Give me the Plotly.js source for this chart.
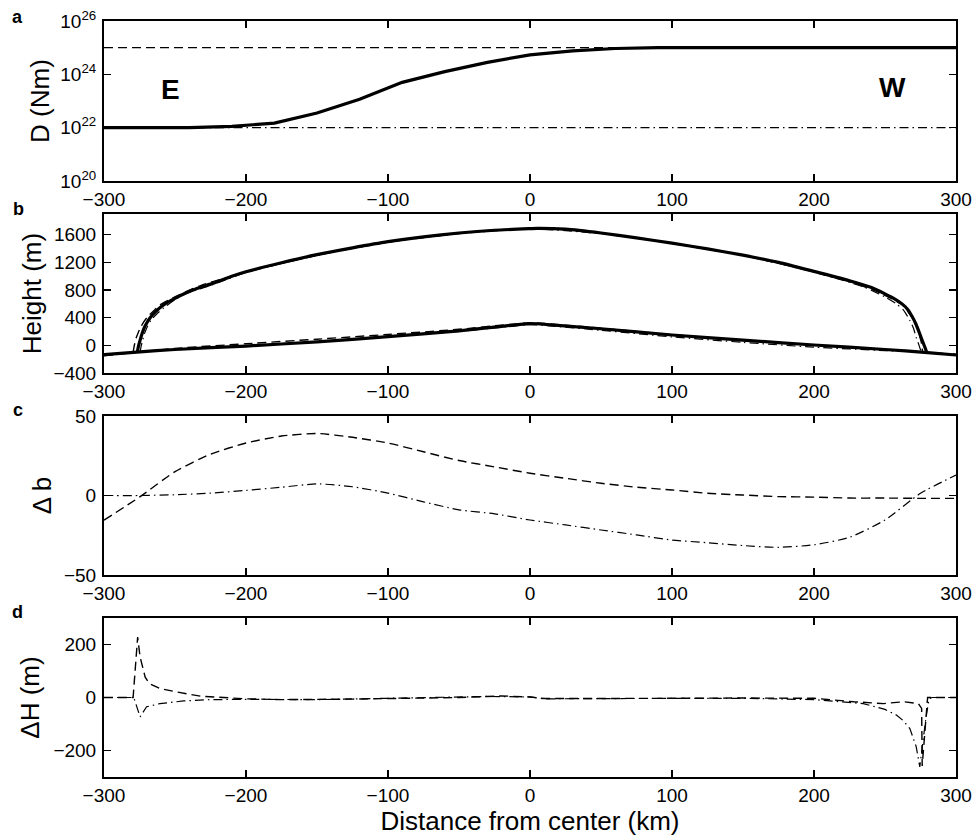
<!DOCTYPE html>
<html>
<head>
<meta charset="utf-8">
<script src="https://cdn.plot.ly/plotly-3.0.1.min.js"></script>
<style>html,body{margin:0;padding:0;background:#fff;}#chart{width:975px;height:836px;}</style>
</head>
<body>
<div id="chart"></div>
<script>
// ---------- Panel a: flexural rigidity D ----------
const xD = [-300, -240, -210, -180, -150, -120, -90, -60, -30, 0, 30, 60, 90, 120, 300];
const dSolid = [1.0e22, 1.0e22, 1.12e22, 1.48e22, 3.55e22, 1.17e23, 5.0e23, 1.26e24, 2.8e24, 5.4e24, 7.6e24, 9.3e24, 1.0e25, 1.0e25, 1.0e25];
const xRef = [-300, 300];
const dHigh = [1e25, 1e25];
const dLow = [1e22, 1e22];
const aTickVals = [1e20, 1e22, 1e24, 1e26];
const aTickText = ['10<sup>20</sup>', '10<sup>22</sup>', '10<sup>24</sup>', '10<sup>26</sup>'];

// ---------- Panel b: ice surface and bed ----------
const xSurf = [-276.5, -276, -275.3, -274.5, -273.5, -272, -270, -267.5, -264, -260, -255, -250, -242, -235, -223, -210, -200, -175, -150, -125, -100, -75, -50, -25, 0, 5, 25, 50, 75, 100, 125, 150, 175, 200, 225, 240, 250, 257, 262, 266, 269, 271.5, 273.5, 275.5, 277, 278.5, 279.5];
const surfSolid = [-97, -40, 20, 80, 150, 240, 320, 400, 480, 555, 625, 680, 760, 820, 900, 1000, 1065, 1195, 1312, 1410, 1500, 1570, 1625, 1665, 1688, 1692, 1680, 1625, 1555, 1478, 1395, 1305, 1200, 1070, 935, 840, 745, 670, 600, 520, 420, 320, 220, 110, 30, -50, -105];
const xSurfDash = [-279.5, -279, -278.3, -277.3, -276, -274.5, -272, -269, -265, -260.6, -249, -232, -200, -150, -100, -50, -25, 0, 5, 25, 50, 100, 150, 200, 228, 249, 263, 270, 273.5, 275.5, 276.5];
const surfDash = [-98, -40, 30, 110, 180, 250, 340, 420, 500, 584, 711, 865, 1058, 1305, 1495, 1622, 1668, 1684, 1688, 1676, 1620, 1475, 1302, 1065, 905, 735, 570, 370, 200, 50, -96];
const xSurfDot = [-274.5, -274, -273, -271.5, -269.5, -267, -263, -258, -250, -244, -225, -200, -150, -100, -50, 0, 50, 100, 150, 200, 235, 250, 258, 263, 267.5, 270, 272, 274, 275.5];
const surfDot = [-95, -30, 60, 170, 270, 360, 450, 540, 660, 735, 865, 1055, 1300, 1492, 1615, 1683, 1618, 1473, 1300, 1060, 845, 700, 600, 510, 360, 250, 114, 0, -96];
const xBed = [-300, -277, -250, -200, -150, -100, -50, -20, 0, 5, 50, 100, 150, 200, 250, 280, 300];
const bedSolid = [-135, -97, -60, -10, 50, 125, 210, 275, 315, 312, 240, 150, 75, 5, -60, -105, -140];
const bedDash = [-150, -100, -44, 23, 89, 158, 232, 292, 329, 325, 248, 154, 76, 4, -62, -107, -142];
const bedDot = [-135, -97, -60, -7, 57, 126, 201, 262, 300, 296, 218, 122, 43, -26, -76, -103, -128];
const bTickVals = [-400, 0, 400, 800, 1200, 1600];

// ---------- Panel c: bed difference ----------
const xC = [-300, -275, -250, -225, -200, -175, -150, -125, -100, -75, -50, -25, 0, 25, 50, 75, 100, 125, 150, 175, 200, 225, 250, 275, 300];
const dbDash = [-15.5, -1, 15, 26, 33, 37.4, 39, 36.6, 33, 27.5, 22, 18, 14, 10.8, 7.7, 5.2, 3.5, 1.4, 0.3, -0.7, -1, -1.6, -1.6, -1.8, -1.8];
const dbDot = [0, 0, 0.5, 1.5, 3.2, 5.2, 7.3, 5.5, 1.5, -4, -9, -11.5, -15.4, -18.5, -21.7, -24.8, -28, -29.7, -31.5, -32.6, -31, -26.3, -15.4, 1.4, 12.8];
const cTickVals = [-50, 0, 50];

// ---------- Panel d: surface height difference ----------
const xHDash = [-300, -279.5, -276.3, -274.6, -271, -268, -260.6, -249, -232, -215, -200, -175, -150, -125, -100, -75, -50, -30, -20, 0, 10, 25, 50, 100, 150, 200, 228, 249, 263, 273.5, 275.8, 276.2, 280, 300];
const dhDash = [0, 0, 228, 153, 77, 52, 34, 21, 5, 0, -5, -8, -8, -6, -4, -3, 0, 4, 6, 2, -4, -4, -3, -3, -2, -3, -16, -23, -16, -23, -41, -258, 0, 0];
const xHDot = [-300, -279, -274.6, -270, -260.6, -244, -225, -200, -150, -100, -50, -30, 0, 10, 50, 100, 150, 200, 234.7, 250, 258, 263, 267.5, 272, 274.5, 278.5, 281, 283, 300];
const dhDot = [0, 0, -73, -35, -23, -13, -8, -7, -8, -4, 0, 4, 2, -5, -4, -3, -3, -8, -23, -45, -66, -88, -117, -186, -262, -90, -5, 0, 0];
const dTickVals = [-200, 0, 200];

const xTickVals = [-300, -200, -100, 0, 100, 200, 300];

// ---------- styles ----------
const FONT = 'Liberation Sans, Arial, Helvetica, sans-serif';
const solid = {color: '#000', width: 3.2, dash: 'solid'};
const dashed = {color: '#000', width: 1.4, dash: '9px,5px'};
const dashdot = {color: '#000', width: 1.2, dash: '9px,4px,1.5px,4px'};

function tr(x, y, line, xa, ya, smooth) {
  const l = Object.assign({}, line);
  if (smooth) { l.shape = 'spline'; l.smoothing = 0.6; }
  return {x: x, y: y, type: 'scatter', mode: 'lines', line: l, xaxis: xa, yaxis: ya, hoverinfo: 'skip', showlegend: false};
}

const data = [
  tr(xRef, dHigh, dashed, 'x', 'y'),
  tr(xRef, dLow, dashdot, 'x', 'y'),
  tr(xD, dSolid, solid, 'x', 'y'),

  tr(xSurfDot, surfDot, dashdot, 'x2', 'y2', true),
  tr(xBed, bedDot, dashdot, 'x2', 'y2', true),
  tr(xSurfDash, surfDash, dashed, 'x2', 'y2', true),
  tr(xBed, bedDash, dashed, 'x2', 'y2', true),
  tr(xSurf, surfSolid, solid, 'x2', 'y2', true),
  tr(xBed, bedSolid, solid, 'x2', 'y2', true),

  tr(xC, dbDash, dashed, 'x3', 'y3', true),
  tr(xC, dbDot, dashdot, 'x3', 'y3', true),

  tr(xHDash, dhDash, dashed, 'x4', 'y4'),
  tr(xHDot, dhDot, dashdot, 'x4', 'y4')
];

function xax(anchor, title) {
  const o = {
    anchor: anchor, domain: [0, 1], range: [-300, 300], tickmode: 'array', tickvals: xTickVals,
    ticks: 'inside', ticklen: 7, tickwidth: 1.3, tickcolor: '#000',
    showline: true, linewidth: 2, linecolor: '#000', mirror: 'ticks',
    showgrid: false, zeroline: false,
    tickfont: {family: FONT, size: 19, color: '#000'}, ticklabelstandoff: 0
  };
  if (title) o.title = {text: title, font: {family: FONT, size: 26, color: '#000'}, standoff: 0};
  return o;
}
function yax(anchor, domain, range, tickvals, title, standoff, extra) {
  const o = {
    anchor: anchor, domain: domain, range: range, tickmode: 'array', tickvals: tickvals,
    ticks: 'inside', ticklen: 7, tickwidth: 1.3, tickcolor: '#000',
    showline: true, linewidth: 2, linecolor: '#000', mirror: 'ticks',
    showgrid: false, zeroline: false,
    tickfont: {family: FONT, size: 19, color: '#000'}, ticklabelstandoff: 2,
    title: {text: title, font: {family: FONT, size: 26, color: '#000'}, standoff: standoff}
  };
  return Object.assign(o, extra || {});
}

const layout = {
  width: 975, height: 836,
  margin: {l: 104, r: 19, t: 21, b: 59},
  paper_bgcolor: '#fff', plot_bgcolor: '#fff',
  font: {family: FONT, color: '#000'},
  showlegend: false,
  xaxis: xax('y'),
  xaxis2: xax('y2'),
  xaxis3: xax('y3'),
  xaxis4: xax('y4', 'Distance from center (km)'),
  yaxis: yax('x', [0.7884, 1.0], [20, 26], aTickVals, 'D (Nm)', 3, {type: 'log', ticktext: aTickText}),
  yaxis2: yax('x2', [0.5344, 0.7447], [-400, 1900], bTickVals, 'Height (m)', 4),
  yaxis3: yax('x3', [0.2672, 0.4775], [-50, 50], cTickVals, 'Δ b', 5),
  yaxis4: yax('x4', [0, 0.2103], [-300, 300], dTickVals, 'ΔH (m)', 6),
  annotations: [
    {text: '<b>a</b>', xref: 'paper', yref: 'paper', x: (17 - 104) / 852, y: (777 - 17) / 756, showarrow: false, font: {family: FONT, size: 18}, xanchor: 'center', yanchor: 'middle'},
    {text: '<b>b</b>', xref: 'paper', yref: 'paper', x: (18 - 104) / 852, y: (777 - 209) / 756, showarrow: false, font: {family: FONT, size: 18}, xanchor: 'center', yanchor: 'middle'},
    {text: '<b>c</b>', xref: 'paper', yref: 'paper', x: (18 - 104) / 852, y: (777 - 410) / 756, showarrow: false, font: {family: FONT, size: 18}, xanchor: 'center', yanchor: 'middle'},
    {text: '<b>d</b>', xref: 'paper', yref: 'paper', x: (17 - 104) / 852, y: (777 - 612) / 756, showarrow: false, font: {family: FONT, size: 18}, xanchor: 'center', yanchor: 'middle'},
    {text: '<b>E</b>', xref: 'x', yref: 'y', x: -253.5, y: 23.42, showarrow: false, font: {family: FONT, size: 28}, xanchor: 'center', yanchor: 'middle'},
    {text: '<b>W</b>', xref: 'x', yref: 'y', x: 255, y: 23.49, showarrow: false, font: {family: FONT, size: 28}, xanchor: 'center', yanchor: 'middle'}
  ]
};

Plotly.newPlot('chart', data, layout, {staticPlot: true, displayModeBar: false});
</script>
</body>
</html>
